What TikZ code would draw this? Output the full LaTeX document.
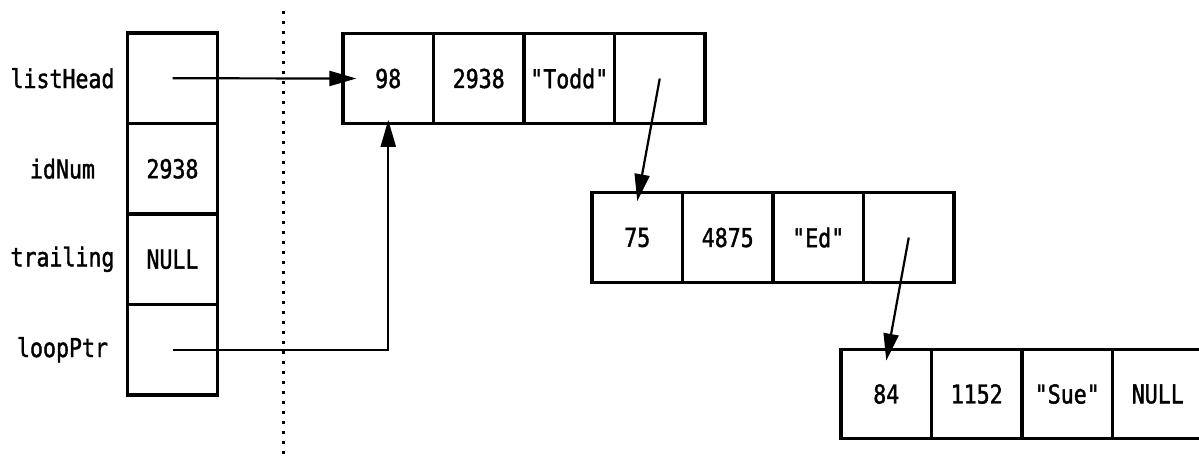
\documentclass[tikz,border=0pt]{standalone}
\usepackage{fontspec}
\newfontfamily\codefont[FakeStretch=0.83,FakeBold=1.5]{DejaVu Sans Mono}
\usetikzlibrary{arrows.meta}
\begin{document}
\begin{tikzpicture}[x=0.5pt,y=-0.5pt,
  txt/.style={font=\codefont\fontsize{13pt}{15pt}\selectfont},
  cell/.style={txt, draw, line width=1.6pt, minimum width=45.25pt, minimum height=44.75pt, inner sep=0pt},
  stackcell/.style={cell, minimum height=45.25pt},
  varlabel/.style={txt, inner sep=0pt},
  ptr/.style={line width=1.1pt, -{Triangle[length=13.5pt,width=7.5pt]}},
  divider/.style={line width=1.5pt, dash pattern=on 1.5pt off 3.5pt}]
\useasboundingbox (0,0) rectangle (1199,457);

% stack variables
\node[stackcell] (s1) at (172.5,78.25) {};
\node[stackcell] (s2) at (172.5,168.75) {2938};
\node[stackcell] (s3) at (172.5,259.25) {NULL};
\node[stackcell] (s4) at (172.5,349.75) {};
\node[varlabel] (l1) at (62.5,78.25) {listHead};
\node[varlabel] (l2) at (62.5,168.75) {idNum};
\node[varlabel] (l3) at (62.5,259.25) {trailing};
\node[varlabel] (l4) at (62.5,349.75) {loopPtr};

% dotted divider
\coordinate (dtop) at (283,11);
\coordinate (dbot) at (283,457);
\draw[divider] (dtop) -- (dbot);

% node 1
\node[cell] (a1) at (388.25,78.5) {98};
\node[cell] (a2) at (478.75,78.5) {2938};
\node[cell] (a3) at (569.25,78.5) {"Todd"};
\node[cell] (a4) at (659.75,78.5) {};

% node 2
\node[cell] (b1) at (637.25,237.5) {75};
\node[cell] (b2) at (727.75,237.5) {4875};
\node[cell] (b3) at (818.25,237.5) {"Ed"};
\node[cell] (b4) at (908.75,237.5) {};

% node 3
\node[cell] (c1) at (886.25,394) {84};
\node[cell] (c2) at (976.75,394) {1152};
\node[cell] (c3) at (1067.25,394) {"Sue"};
\node[cell] (c4) at (1157.75,394) {NULL};

% pointers
\draw[ptr] (s1.center) -- ([xshift=7.5pt]a1.west);
\draw[ptr] (s4.center) -| ([yshift=2.5pt]a1.south);
\draw[ptr] (a4.center) -- ([yshift=-5pt]b1.north);
\draw[ptr] (b4.center) -- ([yshift=-6.5pt]c1.north);
\end{tikzpicture}
\end{document}
